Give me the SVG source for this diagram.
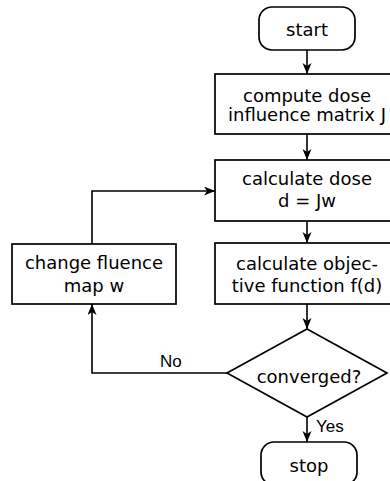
<svg xmlns="http://www.w3.org/2000/svg" width="390" height="481" viewBox="0 0 390 481">
<style>
.n{fill:#fff;stroke:#000;stroke-width:1.7}
.t{font-family:"DejaVu Sans",sans-serif;font-size:18px;text-anchor:middle;fill:#000}
.l{font-family:"Liberation Sans",Arial,sans-serif;font-size:17px;fill:#000}
.c{fill:none;stroke:#000;stroke-width:1.6}
</style>
<defs>
<marker id="a" markerUnits="userSpaceOnUse" markerWidth="12" markerHeight="10" refX="11" refY="4.5" orient="auto">
<path d="M0,0 L11,4.5 L0,9 L3,4.5 z" fill="#000"/>
</marker>
</defs>
<rect width="390" height="481" fill="#fff"/>
<g id="connectors">
<line class="c" x1="307" y1="50" x2="307" y2="74" marker-end="url(#a)"/>
<line class="c" x1="307" y1="134" x2="307" y2="160" marker-end="url(#a)"/>
<line class="c" x1="307" y1="221" x2="307" y2="243" marker-end="url(#a)"/>
<line class="c" x1="307" y1="304" x2="307" y2="329" marker-end="url(#a)"/>
<line class="c" x1="307" y1="417" x2="307" y2="442" marker-end="url(#a)"/>
<polyline class="c" points="92,244 92,191 215,191" marker-end="url(#a)"/>
<polyline class="c" points="227,373 92,373 92,304" marker-end="url(#a)"/>
<text class="l" x="160" y="367">No</text>
<text class="l" x="316" y="432">Yes</text>
</g>
<g id="start">
<rect class="n" x="259" y="7" width="96" height="43" rx="13"/>
<text class="t" x="307" y="36">start</text>
</g>
<g id="compute">
<rect class="n" x="215" y="74" width="184" height="60"/>
<text class="t" x="307" y="102">compute dose</text>
<text class="t" x="307" y="121">influence matrix J</text>
</g>
<g id="dose">
<rect class="n" x="215" y="160" width="184" height="61"/>
<text class="t" x="307" y="185">calculate dose</text>
<text class="t" x="307" y="207">d = Jw</text>
</g>
<g id="objective">
<rect class="n" x="215" y="243" width="184" height="61"/>
<text class="t" x="307" y="270">calculate objec-</text>
<text class="t" x="307" y="292">tive function f(d)</text>
</g>
<g id="fluence">
<rect class="n" x="12" y="244" width="164" height="60"/>
<text class="t" x="94" y="269">change fluence</text>
<text class="t" x="94" y="292">map w</text>
</g>
<g id="converged">
<polygon class="n" points="307,329 387,373 307,417 227,373"/>
<text class="t" x="309" y="383">converged?</text>
</g>
<g id="stop">
<rect class="n" x="261" y="442" width="96" height="43" rx="13"/>
<text class="t" x="309" y="472">stop</text>
</g>
</svg>
